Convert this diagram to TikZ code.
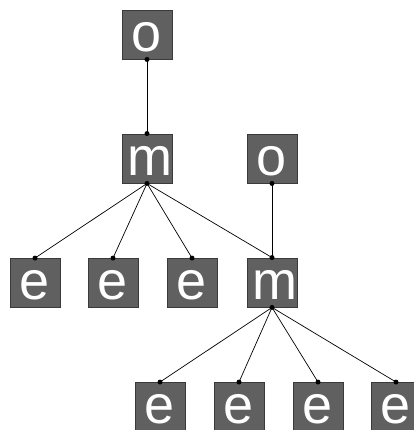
\documentclass[tikz,border=0pt]{standalone}
\usepackage{fontspec}
\setmainfont{Liberation Sans}
\definecolor{boxfill}{HTML}{606060}
\definecolor{boxline}{HTML}{3A3A3A}
\begin{document}
\begin{tikzpicture}[x=1pt,y=1pt,
  tbox/.style={draw=boxline, line width=0.9pt, fill=boxfill, minimum width=50pt, minimum height=49pt, inner sep=0pt},
  tlab/.style={text=white, font=\fontsize{54}{54}\selectfont, anchor=base, inner sep=0pt},
  link/.style={black, line width=0.7pt},
  dot/.style={circle, fill=black, inner sep=0pt, minimum size=5pt}]
\useasboundingbox (0,0) rectangle (413,430);
% boxes (y = 430 - ypx)
\node[tbox] (o1) at (147,395.5) {};
\node[tbox] (m1) at (147,271.5) {};
\node[tbox] (o2) at (272,271.5) {};
\node[tbox] (m2) at (272,147.5) {};
\node[tbox] (e1) at (35,147) {};
\node[tbox] (e2) at (113,147) {};
\node[tbox] (e3) at (192,147) {};
\node[tbox] (e4) at (160,23) {};
\node[tbox] (e5) at (239,23) {};
\node[tbox] (e6) at (318,23) {};
\node[tbox] (e7) at (396,23) {};
% labels
\foreach \n/\t/\dx in {o1/o/0,m1/m/3,o2/o/0,m2/m/3,e1/e/0,e2/e/0,e3/e/0,e4/e/0,e5/e/0,e6/e/0,e7/e/0}{
  \node[tlab] (t\n) at ([xshift=\dx pt,yshift=8pt]\n.south) {\t};
}
% connectors
\draw[link] (o1.south) -- (m1.north);
\draw[link] (o2.south) -- (m2.north);
\foreach \c in {e1,e2,e3,m2}{ \draw[link] (m1.south) -- (\c.north); }
\foreach \c in {e4,e5,e6,e7}{ \draw[link] (m2.south) -- (\c.north); }
% dots
\foreach \n in {o1,m1,o2,m2}{ \node[dot] (ds\n) at (\n.south) {}; }
\foreach \n in {m1,m2,e1,e2,e3,e4,e5,e6,e7}{ \node[dot] (dn\n) at (\n.north) {}; }
\end{tikzpicture}
\end{document}
